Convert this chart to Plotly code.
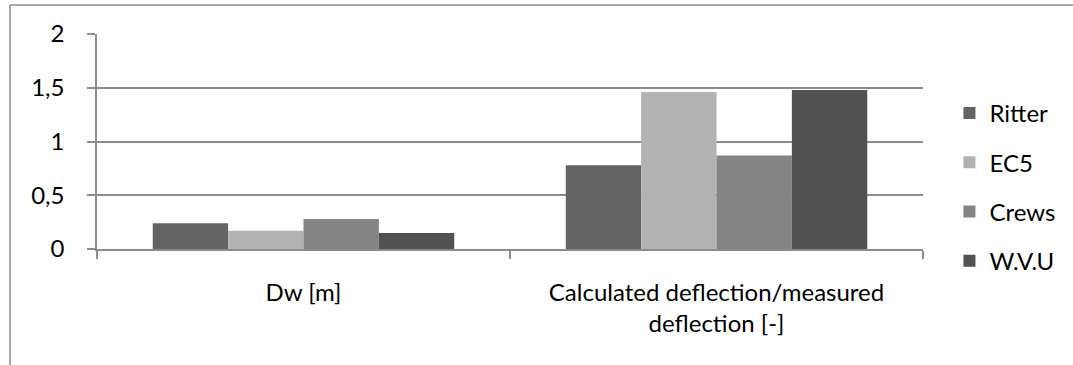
import plotly.graph_objects as go

categories = ["Dw [m]", "Calculated deflection/measured<br>deflection [-]"]
series_names = ["Ritter", "EC5", "Crews", "W.V.U"]
ritter = [0.24, 0.78]
ec5 = [0.17, 1.46]
crews = [0.28, 0.87]
wvu = [0.15, 1.48]
values = [ritter, ec5, crews, wvu]
colors = ["#646464", "#b2b2b2", "#848484", "#515151"]

FONT = "Lato"
FS = 24
W, H = 1073, 365
ML, MR, MT, MB = 97, 150, 34, 116

fig = go.Figure()
for name, vals, col in zip(series_names, values, colors):
    fig.add_trace(go.Bar(
        x=categories, y=vals, name=name, legendgroup=name,
        marker=dict(color=col, line=dict(width=0)),
    ))

pw = W - ML - MR
ph = H - MT - MB
def px_x(x):
    return (x - ML) / pw
def px_y(y):
    return (H - MB - y) / ph

line_col = "#8c8c8c"
fig.add_shape(type="line", xref="paper", yref="paper",
              x0=px_x(10), x1=px_x(W + 5), y0=px_y(5), y1=px_y(5),
              line=dict(color=line_col, width=1.5))
fig.add_shape(type="line", xref="paper", yref="paper",
              x0=px_x(10), x1=px_x(10), y0=px_y(5), y1=px_y(H + 5),
              line=dict(color=line_col, width=1.5))

fig.update_layout(
    width=W, height=H,
    margin=dict(l=ML, r=MR, t=MT, b=MB, autoexpand=False),
    paper_bgcolor="white", plot_bgcolor="white",
    barmode="group", bargap=0.27, bargroupgap=0,
    separators=", ",
    font=dict(family=FONT, size=FS, color="#000000"),
    showlegend=True,
    legend=dict(x=1.032, y=0.735, xanchor="left", yanchor="top",
                font=dict(family=FONT, size=FS, color="#000000"),
                tracegroupgap=15, traceorder="grouped",
                itemwidth=30),
    xaxis=dict(
        type="category", showline=True, linecolor=line_col, linewidth=1.5,
        ticks="outside", tickson="boundaries", ticklen=8, tickcolor=line_col,
        tickwidth=1.5, showgrid=False, ticklabelstandoff=21,
        tickfont=dict(family=FONT, size=FS, color="#000000"),
    ),
    yaxis=dict(
        range=[0, 2], dtick=0.5, tick0=0, showline=True, linecolor=line_col,
        linewidth=1.5, ticks="outside", ticklen=8, tickcolor=line_col,
        tickwidth=1.5, showgrid=True, gridcolor=line_col, gridwidth=1.5,
        zeroline=False, ticklabelstandoff=18,
        tickfont=dict(family=FONT, size=FS, color="#000000"),
    ),
)

fig.write_html("out.html", config={"displayModeBar": False},
               post_script="document.body.style.margin='0';")
